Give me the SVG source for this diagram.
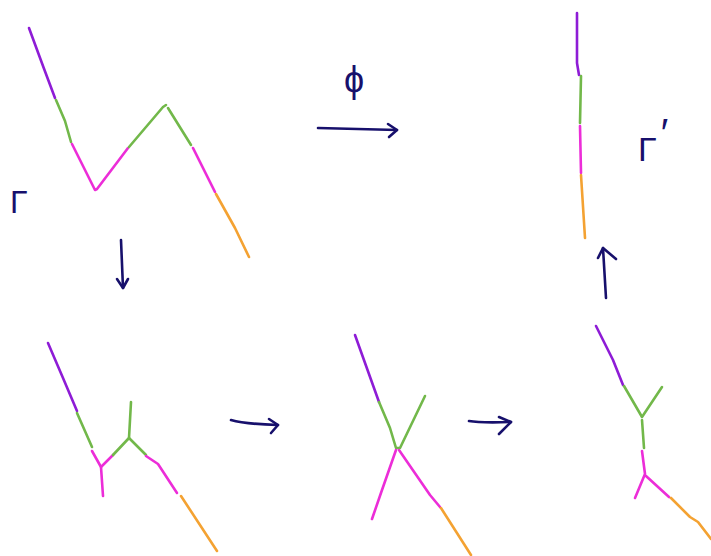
<svg xmlns="http://www.w3.org/2000/svg" width="711" height="556" viewBox="0 0 711 556">
<style>
.s{fill:none;stroke-width:2.6;stroke-linecap:round;stroke-linejoin:round}
.pu{stroke:#8e1cd6}
.gr{stroke:#72b84a}
.pk{stroke:#ec2dd8}
.or{stroke:#f4a232}
.nv{fill:none;stroke:#17106c;stroke-width:2.6;stroke-linecap:round;stroke-linejoin:round}
.lb{fill:#17106c;font-family:"Liberation Sans",Arial,sans-serif}
</style>
<rect width="711" height="556" fill="#fff"/>
<g id="graph-gamma">
<polyline class="s pu" points="29,28 43,66 55,98"/>
<polyline class="s gr" points="56,100 65,121 71,142"/>
<polyline class="s pk" points="72,144 95,190 97,189 128,148"/>
<polyline class="s gr" points="129,147 163,107 166,105"/>
<polyline class="s gr" points="168,108 191,145"/>
<polyline class="s pk" points="193,148 215,192"/>
<polyline class="s or" points="216,194 235,228 249,257"/>
<text class="lb" x="10" y="213" font-size="32">Γ</text>
</g>
<g id="graph-gamma-prime">
<polyline class="s pu" points="577,13 577,63 579,75"/>
<polyline class="s gr" points="581,76 580,123"/>
<polyline class="s pk" points="580,126 581,173"/>
<polyline class="s or" points="581,175 585,238"/>
<text class="lb" x="638" y="161" font-size="34">Γ<tspan dx="4" dy="-14" font-size="40">′</tspan></text>
</g>
<g id="graph-step1">
<polyline class="s pu" points="48,343 63,378 77,411"/>
<polyline class="s gr" points="77,413 92,447"/>
<polyline class="s pk" points="92,451 101,467 103,496"/>
<polyline class="s pk" points="101,467 113,455"/>
<polyline class="s gr" points="113,455 129,438 131,402"/>
<polyline class="s gr" points="129,438 146,455"/>
<polyline class="s pk" points="146,456 158,464 177,493"/>
<polyline class="s or" points="181,496 217,551"/>
</g>
<g id="graph-step2">
<polyline class="s pu" points="355,335 379,402"/>
<polyline class="s gr" points="379,402 390,428 396,448 400,448 425,396"/>
<polyline class="s pk" points="396,450 382,490 372,519"/>
<polyline class="s pk" points="399,450 430,495 440,507"/>
<polyline class="s or" points="441,508 471,555"/>
</g>
<g id="graph-step3">
<polyline class="s pu" points="596,326 613,360 623,385"/>
<polyline class="s gr" points="624,386 642,417 662,387"/>
<polyline class="s gr" points="642,420 644,448"/>
<polyline class="s pk" points="642,451 645,474 635,498"/>
<polyline class="s pk" points="646,476 669,497"/>
<polyline class="s or" points="671,498 690,517 698,522 711,539"/>
</g>
<g id="connectors">
<polyline class="nv" points="318,128 397,130"/>
<polyline class="nv" points="388,124 397,130 389,137"/>
<text class="lb" x="354" y="92" font-size="36" text-anchor="middle" font-family="DejaVu Sans, sans-serif">ϕ</text>
<polyline class="nv" points="121,240 123,288"/>
<polyline class="nv" points="117,279 123,288 128,279"/>
<path class="nv" d="M231,420 Q245,424 278,425"/>
<polyline class="nv" points="269,419 278,425 271,433"/>
<path class="nv" d="M469,421 Q480,423 511,422"/>
<polyline class="nv" points="499,417 511,422 499,434"/>
<polyline class="nv" points="606,298 603,248"/>
<polyline class="nv" points="598,258 603,248 616,259"/>
</g>
</svg>
